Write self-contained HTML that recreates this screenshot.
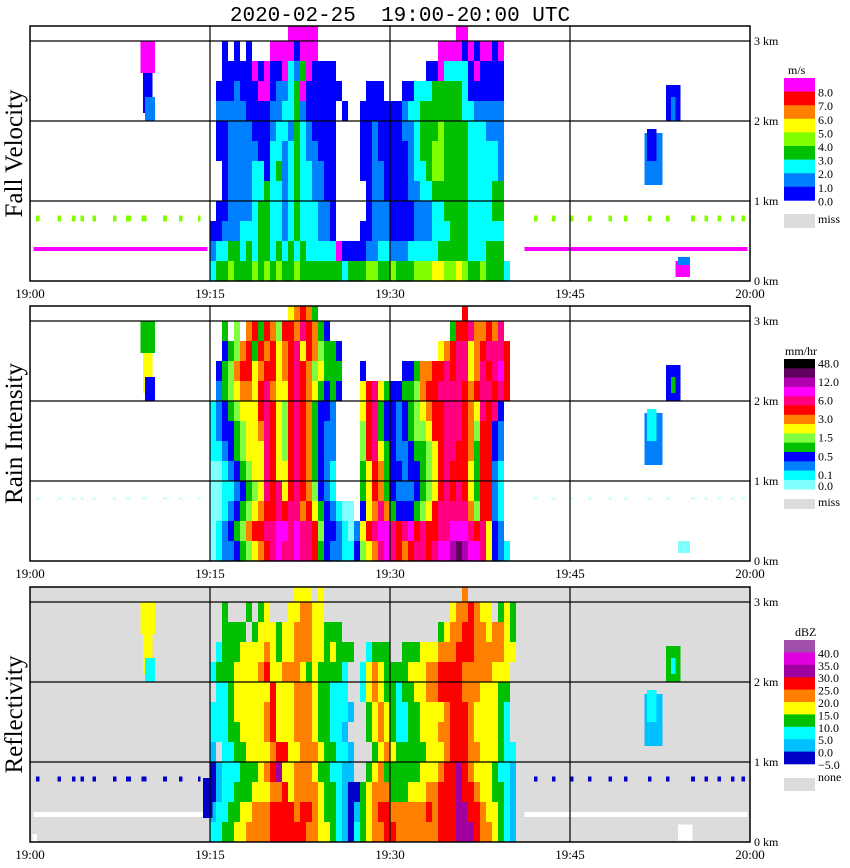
<!DOCTYPE html>
<html><head><meta charset="utf-8"><style>
html,body{margin:0;padding:0;background:#fff;}
svg{display:block;font-family:"Liberation Serif",serif;}
</style></head><body>
<svg id="chart" width="850" height="868" viewBox="0 0 850 868" xmlns="http://www.w3.org/2000/svg">
<text x="400" y="21" font-size="21" text-anchor="middle" font-family="Liberation Mono, monospace" xml:space="preserve" style="white-space:pre">2020-02-25  19:00-20:00 UTC</text>
</svg>
<script>
// ---------- data ----------
// Grid: columns every 0.5 min from 19:15 (52 cols), rows every 0.25 km (row 0 = ground), strings top row first
const gridStartMin = 15;
const gridColMin = 0.5;
const gridRowKm = 0.25;
const velocityGrid = [
"....","....","....",".888","88..","....","....","....","....","....",".88.","....","....",
"..0.","0.0.","..88","8808","88..","....","....","....","....","..88","8808","0880","8...",
"..00","0008","0800","8213","8000","0...","....","....","....","0082","2220","8000","0...",
".000","1000","8801","1238","0000","00..","..00","0...","0022","2333","3320","0000","0...",
".111","1100","0011","2231","0000","0.0.",".000","0000","1223","3333","3322","1111","1...",
".001","1110","0012","2132","1000","0...",".001","0000","1123","3343","3332","2211","1...",
".001","1111","0022","1232","1100","0...",".001","0000","0123","3443","3332","2222","1...",
"..01","1112","2023","1232","2110","0...",".001","1000","0122","3443","3332","2222","1...",
"..01","1112","2322","1232","2110","0...","..01","1000","0112","2333","3332","2223","3...",
".001","1112","3322","1232","2211","0...","..01","1100","0011","1223","3332","2223","3...",
"0011","1222","3322","1232","2211","0...",".001","1100","0011","1222","3332","2222","2...",
"1223","3232","3323","2323","2222","2800","0011","2211","1222","2233","3332","2233","3...",
"2334","3334","3434","3343","3333","3323","3344","3343","3344","4554","4543","3433","32.."];
const rainGrid = [
"....","....","....",".678","74..","....","....","....","....","....","..8.","....","....",
"..4.","5.78","4875","8879","8743","....","....","....","....","....","4889","7787","9...",
"..34","5784","8786","7896","8754","43..","....","....","....","..67","8996","7899","98..",
".345","7886","7886","7898","7564","44..",".3..","....","3347","7889","8996","7989","a8..",
".245","6776","8976","6898","7643","43..",".689","6433","4457","8899","9987","8998","98..",
"1234","5666","8986","5898","7433","2...",".689","4332","3456","7889","9987","6989","3...",
"1233","4566","7986","5898","7432","2...",".589","4332","3455","6889","9987","5883","2...",
"1123","4566","6986","5898","7432","2...",".589","6432","2344","5689","9887","4883","2...",
"0012","3456","6986","6898","7432","1...",".468","7433","2334","5689","8886","4882","1...",
"0011","2345","6989","6898","7532","1...",".468","7432","2234","5689","8986","4882","1...",
"0012","3456","7889","8997","8643","2100",".367","9743","3345","6899","9997","5882","1...",
"0123","4578","899a","a9a9","9853","3210","2689","aa98","9a89","8899","aaa9","8963","2...",
"0122","3456","789a","99a9","9843","2211","3567","9a98","7899","89aa","bcba","a963","21.."];
const reflGrid = [
"....","....","....","..44","4.4.","....","....","....","....","....","..5.","....","....",
"..3.","..3.","34..",".445","544.","....","....","....","....","....","4556","544.","343.",
"..33","33.3","4443","4455","5443","33..","....","....","....","..34","5566","5545","543.",
".233","3444","4543","4455","5443","4333","..23","33..","3334","4455","5666","5555","544.",
"2333","4444","5644","5554","3433","332.",".245","4333","3444","5566","6655","5554","44..",
".223","4444","4464","4455","5433","222.",".245","4332","3344","5566","6655","5444","33..",
"2223","4444","4564","4455","5433","2221","..34","5432","2334","4445","6665","4444","32..",
"2223","3444","4564","4455","5433","221.","..34","5432","2334","4455","6665","4444","32..",
"1.22","3344","4456","6445","5543","3221","...3","4543","3333","4445","6665","5444","322.",
"0122","2333","4567","4455","5433","2211","..34","5333","3334","4456","6765","4443","221.",
"0122","3334","4455","6455","5543","3210","0345","5533","3444","5566","6766","5443","321.",
"1223","3445","5566","6656","6543","3210","1345","6655","5555","6566","6776","6544","321.",
"2233","4455","5566","6666","5544","3210","2345","5665","5555","5566","6777","6554","321."];
// isolated echoes: [startMin, endMin, bottomKm, topKm, colorIndex]
const velocityCells = [[9.2,10.4,2.6,3.0,8],[9.4,10.2,2.1,2.6,0],[9.6,10.4,2.0,2.3,1],[53,54.2,2.0,2.45,0],[53.4,53.8,2.0,2.3,1],[51.2,52.7,1.2,1.85,1],[51.4,52.2,1.5,1.9,0],[53.8,55,0.05,0.25,8],[54,55,0.2,0.3,1]];
const rainCells = [[9.2,10.4,2.6,3.0,4],[9.4,10.2,2.1,2.6,6],[9.6,10.4,2.0,2.3,3],[53,54.2,2.0,2.45,3],[53.4,53.8,2.1,2.3,4],[51.2,52.7,1.2,1.85,2],[51.4,52.2,1.5,1.9,1],[54,55,0.1,0.25,0]];
const reflCells = [[9.2,10.4,2.6,3.0,4],[9.4,10.2,2.1,2.6,4],[9.6,10.4,2.0,2.3,2],[53,54.2,2.0,2.45,3],[53.4,53.8,2.1,2.3,2],[51.2,52.7,1.2,1.85,1],[51.4,52.2,1.5,1.9,2],[14.4,15.2,0.3,0.8,0]];
const reflWhiteCells = [[54,55.2,0.02,0.22],[0.2,0.6,0.0,0.1],[22.2,23.4,0.0,0.05]];
// clutter segments [startMin,endMin]
const clutterDashes = [[0.5,0.8],[2.3,2.6],[3.5,3.8],[4.2,4.5],[5.2,5.5],[6.9,7.2],[8.0,8.4],[9.3,9.7],[11.1,11.4],[12.4,12.7],[14.0,14.2],[42,42.3],[43.5,43.8],[45.0,45.3],[46.5,46.8],[48.2,48.5],[49.5,49.8],[51.5,51.8],[53,53.3],[55.1,55.4],[56.2,56.5],[57.3,57.6],[58.4,58.7],[59.3,59.6]];
const lowLineSegments = [[0.3,14.8],[41.2,59.8]];
const clutterKm = 0.78;
const lowLineKm = 0.4;
// legends
const velColors = ["#0000ff","#0080ff","#00ffff","#00c000","#80ff00","#ffff00","#ff8000","#ff0000","#ff00ff"];
const velLabels = ["8.0","7.0","6.0","5.0","4.0","3.0","2.0","1.0","0.0"];
const rainColors = ["#80ffff","#00ffff","#0080ff","#0000ff","#00c000","#80ff40","#ffff00","#ff8000","#ff0000","#ff0080","#ff00ff","#b000b0","#600060","#000000"];
const rainLabels = [["48.0",0],["12.0",2],["6.0",4],["3.0",6],["1.5",8],["0.5",10],["0.1",12],["0.0",13]];
const reflColors = ["#0000c8","#00c0ff","#00ffff","#00c000","#ffff00","#ff8000","#ff0000","#a000a0","#e000e0","#a050a8"];
const reflLabels = ["40.0","35.0","30.0","25.0","20.0","15.0","10.0","5.0","0.0","\u22125.0"];
const timeTicks = ["19:00","19:15","19:30","19:45","20:00"];
const kmTicks = [0,1,2,3];

// ---------- drawing ----------
const NS="http://www.w3.org/2000/svg";
const svg=document.getElementById('chart');
const X0=30,X1=750;
function xScale(m){return X0+(X1-X0)*m/60;}
function mk(tag,attrs,parent){const e=document.createElementNS(NS,tag);for(const k in attrs)e.setAttribute(k,attrs[k]);(parent||svg).appendChild(e);return e;}

const panels=[
 {top:26,bottom:281,bg:"#ffffff",grid:velocityGrid,cells:velocityCells,colors:velColors,name:"fall-velocity",title:"Fall Velocity"},
 {top:306,bottom:561,bg:"#ffffff",grid:rainGrid,cells:rainCells,colors:rainColors,name:"rain-intensity",title:"Rain Intensity"},
 {top:587,bottom:842,bg:"#dcdcdc",grid:reflGrid,cells:reflCells,colors:reflColors,name:"reflectivity",title:"Reflectivity"}];

panels.forEach((p,pi)=>{
 const g=mk('g',{});
 
 
 const yScale=h=>p.bottom-80*h;
 const bg=mk('rect',{x:X0,y:p.top,width:X1-X0,height:p.bottom-p.top,fill:p.bg},g);
 
 
 const cg=mk('g',{'shape-rendering':'crispEdges'},g);
 if(pi===0){
  lowLineSegments.forEach(s=>{const r=mk('rect',{x:xScale(s[0]),y:yScale(lowLineKm)-2,width:xScale(s[1])-xScale(s[0]),height:4,fill:"#ff00ff"},cg);});
  clutterDashes.forEach(s=>{const r=mk('rect',{x:xScale(s[0]),y:yScale(clutterKm)-3,width:xScale(s[1])-xScale(s[0]),height:6,fill:"#80ff00"},cg);});
 } else if(pi===1){
  clutterDashes.forEach(s=>{const r=mk('rect',{x:xScale(s[0]),y:yScale(clutterKm)-1,width:xScale(s[1])-xScale(s[0]),height:2,fill:"#c0ffff"},cg);});
 } else {
  lowLineSegments.forEach(s=>{const r=mk('rect',{x:xScale(s[0]),y:yScale(0.35)-2,width:xScale(s[1])-xScale(s[0]),height:5,fill:"#ffffff"},cg);});
  clutterDashes.forEach(s=>{const r=mk('rect',{x:xScale(s[0]),y:yScale(clutterKm)-3,width:xScale(s[1])-xScale(s[0]),height:5,fill:"#0000c8"},cg);});
  reflWhiteCells.forEach(d=>{const r=mk('rect',{x:xScale(d[0]),y:yScale(d[3]),width:xScale(d[1])-xScale(d[0]),height:yScale(d[2])-yScale(d[3]),fill:"#ffffff"},cg);});
 }
 const nRows=p.grid.length/13;
 for(let ri=0;ri<nRows;ri++){
  const row=p.grid.slice(ri*13,ri*13+13).join('');
  const level=nRows-1-ri;
  for(let c=0;c<row.length;c++){
   const ch=row[c]; if(ch==='.')continue;
   const v=parseInt(ch,16);
   const t0=gridStartMin+c*gridColMin;
   const y0=yScale((level+1)*gridRowKm), y1=yScale(level*gridRowKm);
   const top=Math.max(y0,p.top);
   const r=mk('rect',{x:xScale(t0),y:top,width:xScale(t0+gridColMin)-xScale(t0),height:y1-top,fill:p.colors[v]},cg);
   
   
  }
 }
 p.cells.forEach(d=>{
  const r=mk('rect',{x:xScale(d[0]),y:yScale(d[3]),width:xScale(d[1])-xScale(d[0]),height:yScale(d[2])-yScale(d[3]),fill:p.colors[d[4]]},cg);
  
  
 });
 [1,2,3].forEach(k=>{const l=mk('line',{x1:X0,x2:X1,y1:yScale(k),y2:yScale(k),stroke:"#000","stroke-width":1.2},g);});
 [15,30,45].forEach(m=>{const l=mk('line',{x1:xScale(m),x2:xScale(m),y1:p.top,y2:p.bottom,stroke:"#000","stroke-width":1.2},g);});
 const fr=mk('rect',{x:X0,y:p.top,width:X1-X0,height:p.bottom-p.top,fill:"none",stroke:"#000","stroke-width":1.5},g);
 
 
 kmTicks.forEach(k=>{const t=mk('text',{x:754,y:yScale(k)+4,'font-size':12},g);t.textContent=k+' km';});
 timeTicks.forEach((s,i)=>{const t=mk('text',{x:xScale(i*15),y:p.bottom+17,'font-size':13,'text-anchor':'middle'},g);t.textContent=s;});
 const cy=(p.top+p.bottom)/2;
 const yt=mk('text',{x:22,y:cy,'font-size':25,'text-anchor':'middle',transform:'rotate(-90 22 '+cy+')'},g);
 yt.textContent=p.title;
 
 
});

function legendText(x,y,s,name){const t=mk('text',{x:x,y:y,'font-size':12});t.textContent=s;return t;}
(function(){
 const top=78,h=13.6;
 legendText(788,74,'m/s','legend-units');
 for(let i=0;i<9;i++){const r=mk('rect',{x:784,y:top+i*h,width:31,height:h+0.3,fill:velColors[8-i]});}
 velLabels.forEach((s,i)=>legendText(818,top+(i+1)*h+5,s,'legend-label'));
 const m=mk('rect',{x:784,y:214,width:31,height:14,fill:"#dcdcdc"});
 legendText(818,223,'miss','legend-label');
})();
(function(){
 const top=359,h=9.3;
 legendText(785,355,'mm/hr','legend-units');
 for(let i=0;i<14;i++){const r=mk('rect',{x:784,y:top+i*h,width:31,height:h+0.3,fill:rainColors[13-i]});}
 rainLabels.forEach(d=>legendText(818,top+(d[1]+1)*h+(d[1]===13?1:-1),d[0],'legend-label'));
 const m=mk('rect',{x:784,y:499,width:31,height:10,fill:"#dcdcdc"});
 legendText(818,506,'miss','legend-label');
})();
(function(){
 const top=640,h=12.4;
 legendText(795,636,'dBZ','legend-units');
 for(let i=0;i<10;i++){const r=mk('rect',{x:784,y:top+i*h,width:31,height:h+0.3,fill:reflColors[9-i]});}
 reflLabels.forEach((s,i)=>legendText(818,top+(i+1)*h+5,s,'legend-label'));
 legendText(818,781,'none','legend-label');
 const m=mk('rect',{x:784,y:778,width:31,height:13,fill:"#dcdcdc"});
})();
</script>
</body></html>
